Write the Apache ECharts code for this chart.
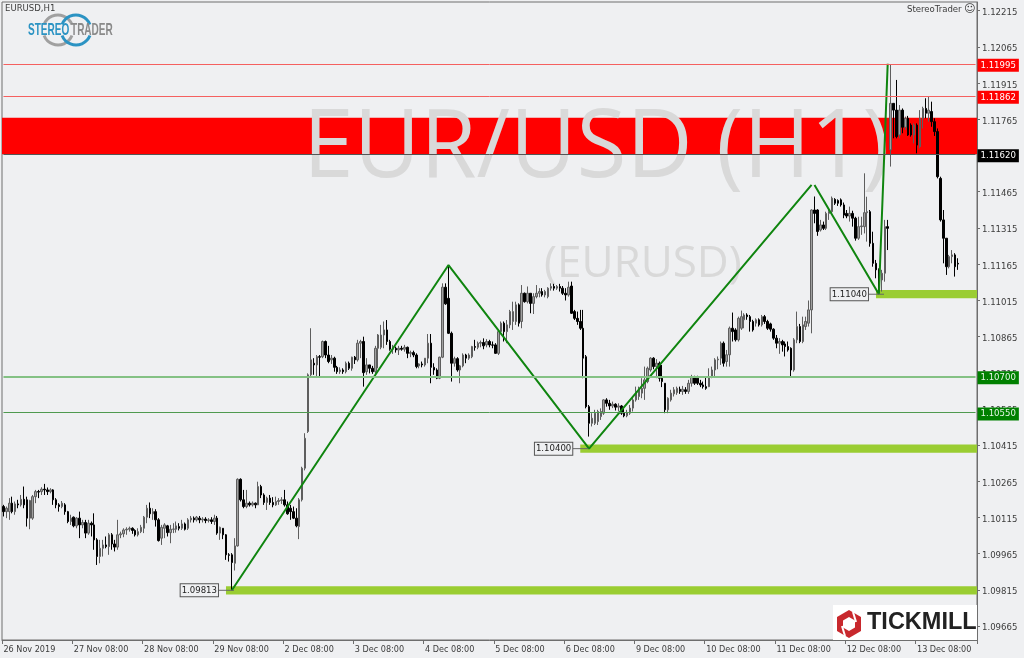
<!DOCTYPE html>
<html><head><meta charset="utf-8">
<style>html,body{margin:0;padding:0;background:#eff0f2}#c{width:1024px;height:658px}</style>
<script src="https://cdn.jsdelivr.net/npm/echarts@6/dist/echarts.min.js"></script>
</head><body><div id="c"></div>
<script>
// each row: [open, close, low, high]
const nov26 = [[1.10160,1.10139,1.10119,1.10167],[1.10139,1.10153,1.10112,1.10160],[1.10139,1.10174,1.10105,1.10195],[1.10174,1.10139,1.10132,1.10201],[1.10139,1.10171,1.10126,1.10181],[1.10171,1.10167,1.10153,1.10188],[1.10167,1.10190,1.10160,1.10208],[1.10190,1.10167,1.10153,1.10243],[1.10188,1.10112,1.10077,1.10201],[1.10112,1.10185,1.10066,1.10188],[1.10112,1.10201,1.10105,1.10208],[1.10201,1.10222,1.10174,1.10229],[1.10222,1.10220,1.10195,1.10229],[1.10222,1.10232,1.10208,1.10240],[1.10232,1.10229,1.10208,1.10254],[1.10229,1.10222,1.10208,1.10239],[1.10222,1.10229,1.10215,1.10236],[1.10229,1.10188,1.10167,1.10232],[1.10188,1.10167,1.10153,1.10195],[1.10167,1.10160,1.10139,1.10174],[1.10160,1.10174,1.10153,1.10183],[1.10167,1.10139,1.10126,1.10174],[1.10139,1.10098,1.10091,1.10142],[1.10098,1.10112,1.10084,1.10126]];
const nov27 = [[1.10116,1.10080,1.10074,1.10119],[1.10080,1.10112,1.10070,1.10116],[1.10112,1.10084,1.10029,1.10139],[1.10084,1.10094,1.10070,1.10105],[1.10094,1.10050,1.10029,1.10105],[1.10050,1.10091,1.10043,1.10105],[1.10091,1.10084,1.10036,1.10098],[1.10084,1.10022,1.09981,1.10132],[1.10022,1.09953,1.09918,1.10029],[1.09953,1.09987,1.09925,1.10022],[1.09987,1.10001,1.09953,1.10022],[1.10001,1.09994,1.09987,1.10036],[1.09994,1.10043,1.09960,1.10050],[1.10043,1.10005,1.09981,1.10050],[1.10005,1.09992,1.09974,1.10022],[1.09992,1.10043,1.09981,1.10105],[1.10043,1.10047,1.10029,1.10056],[1.10047,1.10063,1.10033,1.10070],[1.10063,1.10066,1.10043,1.10074],[1.10066,1.10070,1.10056,1.10077],[1.10070,1.10061,1.10047,1.10074],[1.10061,1.10043,1.10036,1.10066],[1.10043,1.10056,1.10036,1.10070],[1.10056,1.10074,1.10050,1.10084]];
const nov28 = [[1.10070,1.10116,1.10050,1.10121],[1.10116,1.10153,1.10091,1.10167],[1.10153,1.10130,1.10112,1.10177],[1.10130,1.10139,1.10105,1.10153],[1.10139,1.10105,1.10077,1.10149],[1.10105,1.10019,1.10015,1.10112],[1.10029,1.10074,1.10001,1.10084],[1.10070,1.10084,1.10029,1.10091],[1.10080,1.10052,1.10036,1.10084],[1.10052,1.10066,1.10008,1.10084],[1.10066,1.10067,1.10050,1.10091],[1.10066,1.10080,1.10052,1.10098],[1.10077,1.10070,1.10061,1.10091],[1.10070,1.10088,1.10063,1.10105],[1.10088,1.10066,1.10061,1.10094],[1.10070,1.10105,1.10063,1.10112],[1.10105,1.10112,1.10094,1.10121],[1.10112,1.10105,1.10094,1.10119],[1.10105,1.10116,1.10098,1.10121],[1.10112,1.10105,1.10091,1.10121],[1.10105,1.10108,1.10094,1.10116],[1.10108,1.10102,1.10091,1.10116],[1.10102,1.10105,1.10094,1.10112],[1.10105,1.10098,1.10088,1.10116]];
const nov29 = [[1.10098,1.10112,1.10084,1.10126],[1.10112,1.10050,1.10043,1.10121],[1.10050,1.10074,1.10022,1.10077],[1.10070,1.10043,1.10025,1.10070],[1.10043,1.09960,1.09939,1.10046],[1.09960,1.09958,1.09932,1.09967],[1.09960,1.09928,1.09813,1.09967],[1.09925,1.09997,1.09895,1.10029],[1.09997,1.10273,1.09994,1.10277],[1.10273,1.10188,1.10181,1.10277],[1.10188,1.10160,1.10153,1.10229],[1.10160,1.10174,1.10153,1.10229],[1.10174,1.10167,1.10160,1.10181],[1.10167,1.10174,1.10160,1.10181],[1.10174,1.10167,1.10153,1.10177],[1.10167,1.10243,1.10167,1.10263],[1.10243,1.10208,1.10195,1.10250],[1.10208,1.10177,1.10167,1.10215],[1.10177,1.10195,1.10146,1.10201],[1.10195,1.10177,1.10167,1.10208],[1.10177,1.10167,1.10157,1.10199],[1.10167,1.10181,1.10163,1.10201],[1.10181,1.10185,1.10167,1.10195],[1.10185,1.10188,1.10171,1.10199]];
const dec02 = [[1.10188,1.10167,1.10160,1.10229],[1.10167,1.10130,1.10126,1.10181],[1.10153,1.10139,1.10105,1.10167],[1.10139,1.10112,1.10108,1.10160],[1.10112,1.10080,1.10074,1.10153],[1.10077,1.10188,1.10025,1.10195],[1.10188,1.10319,1.10181,1.10325],[1.10319,1.10443,1.10310,1.10464],[1.10471,1.10706,1.10465,1.10712],[1.10706,1.10768,1.10699,1.10899],[1.10754,1.10747,1.10706,1.10775],[1.10747,1.10781,1.10699,1.10788],[1.10781,1.10779,1.10701,1.10788],[1.10781,1.10844,1.10775,1.10848],[1.10844,1.10788,1.10775,1.10848],[1.10788,1.10761,1.10754,1.10826],[1.10768,1.10775,1.10751,1.10788],[1.10775,1.10737,1.10719,1.10781],[1.10737,1.10719,1.10710,1.10743],[1.10719,1.10726,1.10710,1.10737],[1.10726,1.10719,1.10710,1.10733],[1.10719,1.10754,1.10712,1.10761],[1.10754,1.10733,1.10726,1.10761],[1.10733,1.10779,1.10723,1.10781]];
const dec03 = [[1.10779,1.10768,1.10751,1.10784],[1.10768,1.10837,1.10761,1.10851],[1.10837,1.10844,1.10775,1.10851],[1.10844,1.10715,1.10657,1.10864],[1.10719,1.10747,1.10706,1.10775],[1.10747,1.10733,1.10712,1.10747],[1.10733,1.10719,1.10710,1.10743],[1.10719,1.10816,1.10699,1.10826],[1.10816,1.10871,1.10733,1.10875],[1.10820,1.10871,1.10812,1.10913],[1.10871,1.10892,1.10816,1.10927],[1.10892,1.10844,1.10830,1.10933],[1.10844,1.10812,1.10806,1.10851],[1.10812,1.10816,1.10793,1.10830],[1.10816,1.10809,1.10798,1.10823],[1.10809,1.10816,1.10788,1.10826],[1.10816,1.10812,1.10806,1.10826],[1.10812,1.10820,1.10802,1.10830],[1.10820,1.10795,1.10775,1.10823],[1.10795,1.10798,1.10779,1.10806],[1.10798,1.10788,1.10779,1.10806],[1.10788,1.10740,1.10733,1.10795],[1.10743,1.10751,1.10733,1.10754],[1.10751,1.10747,1.10737,1.10761]];
const dec04 = [[1.10747,1.10775,1.10740,1.10775],[1.10775,1.10837,1.10754,1.10875],[1.10837,1.10737,1.10671,1.10875],[1.10737,1.10726,1.10706,1.10754],[1.10726,1.10692,1.10688,1.10733],[1.10692,1.10779,1.10688,1.10781],[1.10779,1.11069,1.10775,1.11085],[1.11069,1.11000,1.10996,1.11085],[1.11023,1.10878,1.10875,1.11161],[1.10878,1.10754,1.10678,1.10885],[1.10754,1.10773,1.10740,1.10781],[1.10773,1.10726,1.10719,1.10779],[1.10726,1.10743,1.10671,1.10747],[1.10743,1.10788,1.10737,1.10795],[1.10788,1.10775,1.10754,1.10793],[1.10775,1.10788,1.10768,1.10795],[1.10781,1.10823,1.10775,1.10826],[1.10823,1.10820,1.10806,1.10851],[1.10820,1.10837,1.10812,1.10844],[1.10837,1.10840,1.10820,1.10848],[1.10840,1.10826,1.10812,1.10857],[1.10830,1.10844,1.10820,1.10854],[1.10844,1.10830,1.10820,1.10851],[1.10830,1.10829,1.10816,1.10844]];
const dec05 = [[1.10830,1.10795,1.10793,1.10837],[1.10795,1.10885,1.10788,1.10889],[1.10885,1.10920,1.10878,1.10927],[1.10920,1.10885,1.10844,1.10927],[1.10885,1.10913,1.10837,1.10933],[1.10913,1.10968,1.10899,1.10975],[1.10927,1.10968,1.10892,1.11009],[1.10927,1.10996,1.10913,1.11009],[1.10996,1.10920,1.10906,1.11002],[1.10927,1.11044,1.10899,1.11078],[1.11044,1.11009,1.11005,1.11047],[1.11009,1.11044,1.11002,1.11072],[1.11044,1.11002,1.10961,1.11044],[1.11002,1.11030,1.10958,1.11044],[1.11030,1.11044,1.11023,1.11078],[1.11044,1.11051,1.11027,1.11065],[1.11051,1.11037,1.11030,1.11065],[1.11037,1.11051,1.11027,1.11058],[1.11030,1.11065,1.11023,1.11069],[1.11065,1.11072,1.11055,1.11085],[1.11072,1.11065,1.11055,1.11083],[1.11065,1.11072,1.11058,1.11078],[1.11072,1.11065,1.11051,1.11083],[1.11065,1.11044,1.11037,1.11074]];
const dec06 = [[1.11044,1.11037,1.11014,1.11065],[1.11037,1.11069,1.11030,1.11092],[1.11074,1.10961,1.10958,1.11092],[1.10968,1.10940,1.10933,1.10975],[1.10940,1.10927,1.10913,1.10968],[1.10927,1.10899,1.10892,1.10975],[1.10899,1.10775,1.10692,1.10975],[1.10781,1.10574,1.10567,1.10788],[1.10574,1.10505,1.10450,1.10581],[1.10505,1.10526,1.10492,1.10547],[1.10505,1.10547,1.10498,1.10561],[1.10512,1.10554,1.10498,1.10561],[1.10533,1.10554,1.10519,1.10567],[1.10547,1.10602,1.10540,1.10605],[1.10602,1.10588,1.10574,1.10609],[1.10588,1.10577,1.10561,1.10602],[1.10577,1.10584,1.10568,1.10595],[1.10584,1.10572,1.10558,1.10588],[1.10572,1.10577,1.10554,1.10588],[1.10577,1.10547,1.10540,1.10581],[1.10547,1.10536,1.10530,1.10568],[1.10536,1.10550,1.10530,1.10561],[1.10547,1.10568,1.10540,1.10581],[1.10568,1.10602,1.10554,1.10613]];
const dec09 = [[1.10602,1.10637,1.10595,1.10657],[1.10616,1.10650,1.10602,1.10657],[1.10630,1.10650,1.10609,1.10692],[1.10650,1.10685,1.10602,1.10740],[1.10678,1.10733,1.10671,1.10740],[1.10726,1.10775,1.10719,1.10779],[1.10775,1.10740,1.10729,1.10779],[1.10740,1.10754,1.10692,1.10771],[1.10754,1.10692,1.10678,1.10761],[1.10692,1.10678,1.10655,1.10747],[1.10671,1.10561,1.10547,1.10671],[1.10561,1.10609,1.10547,1.10613],[1.10602,1.10630,1.10595,1.10644],[1.10627,1.10644,1.10616,1.10655],[1.10632,1.10650,1.10623,1.10657],[1.10646,1.10637,1.10627,1.10657],[1.10637,1.10646,1.10623,1.10660],[1.10644,1.10637,1.10627,1.10655],[1.10637,1.10671,1.10627,1.10685],[1.10671,1.10699,1.10657,1.10706],[1.10699,1.10671,1.10664,1.10702],[1.10692,1.10671,1.10664,1.10702],[1.10671,1.10664,1.10655,1.10685],[1.10664,1.10657,1.10649,1.10678]];
const dec10 = [[1.10657,1.10650,1.10644,1.10699],[1.10657,1.10699,1.10655,1.10733],[1.10699,1.10726,1.10692,1.10740],[1.10726,1.10768,1.10696,1.10775],[1.10768,1.10771,1.10729,1.10782],[1.10775,1.10837,1.10747,1.10844],[1.10837,1.10754,1.10740,1.10844],[1.10761,1.10789,1.10740,1.10809],[1.10789,1.10899,1.10740,1.10906],[1.10899,1.10885,1.10844,1.10964],[1.10892,1.10851,1.10844,1.10899],[1.10851,1.10940,1.10844,1.10947],[1.10899,1.10947,1.10892,1.10972],[1.10934,1.10954,1.10899,1.10961],[1.10954,1.10947,1.10934,1.10961],[1.10947,1.10927,1.10885,1.10954],[1.10927,1.10892,1.10885,1.10934],[1.10920,1.10934,1.10906,1.10940],[1.10934,1.10913,1.10906,1.10940],[1.10913,1.10947,1.10906,1.10954],[1.10947,1.10927,1.10917,1.10954],[1.10927,1.10899,1.10892,1.10934],[1.10917,1.10895,1.10885,1.10922],[1.10895,1.10858,1.10851,1.10899]];
const dec11 = [[1.10858,1.10837,1.10816,1.10871],[1.10837,1.10844,1.10793,1.10858],[1.10844,1.10830,1.10802,1.10851],[1.10834,1.10823,1.10782,1.10844],[1.10823,1.10809,1.10802,1.10844],[1.10816,1.10726,1.10699,1.10820],[1.10726,1.10851,1.10719,1.10858],[1.10851,1.10906,1.10837,1.10968],[1.10906,1.10844,1.10837,1.10917],[1.10844,1.10913,1.10837,1.10947],[1.10906,1.10927,1.10892,1.10947],[1.10920,1.10975,1.10906,1.11014],[1.10975,1.11389,1.10878,1.11392],[1.11389,1.11375,1.11334,1.11445],[1.11389,1.11300,1.11282,1.11392],[1.11306,1.11327,1.11300,1.11348],[1.11327,1.11313,1.11306,1.11341],[1.11313,1.11375,1.11306,1.11382],[1.11375,1.11382,1.11348,1.11396],[1.11382,1.11438,1.11375,1.11445],[1.11433,1.11417,1.11410,1.11438],[1.11428,1.11417,1.11406,1.11433],[1.11431,1.11410,1.11403,1.11437],[1.11410,1.11368,1.11355,1.11420]];
const dec12 = [[1.11375,1.11364,1.11355,1.11389],[1.11364,1.11375,1.11341,1.11403],[1.11375,1.11355,1.11320,1.11386],[1.11355,1.11272,1.11262,1.11361],[1.11272,1.11320,1.11265,1.11361],[1.11320,1.11323,1.11286,1.11361],[1.11320,1.11378,1.11292,1.11541],[1.11378,1.11382,1.11258,1.11444],[1.11382,1.11251,1.11237,1.11389],[1.11251,1.11168,1.11154,1.11299],[1.11168,1.11141,1.11106,1.11182],[1.11141,1.11099,1.11044,1.11147],[1.11099,1.11127,1.11051,1.11141],[1.11127,1.11320,1.11092,1.11348],[1.11320,1.11313,1.11223,1.11348],[1.11638,1.11831,1.11569,1.11990],[1.11831,1.11803,1.11686,1.11831],[1.11803,1.11693,1.11686,1.11928],[1.11700,1.11803,1.11686,1.11824],[1.11803,1.11732,1.11707,1.11810],[1.11732,1.11769,1.11721,1.11776],[1.11769,1.11700,1.11696,1.11779],[1.11741,1.11700,1.11693,1.11748],[1.11700,1.11741,1.11665,1.11748]];
const dec13 = [[1.11741,1.11658,1.11624,1.11748],[1.11652,1.11769,1.11645,1.11803],[1.11769,1.11810,1.11727,1.11817],[1.11810,1.11790,1.11769,1.11852],[1.11790,1.11803,1.11755,1.11859],[1.11797,1.11755,1.11734,1.11838],[1.11755,1.11714,1.11696,1.11769],[1.11714,1.11527,1.11520,1.11727],[1.11520,1.11348,1.11341,1.11527],[1.11348,1.11272,1.11168,1.11389],[1.11272,1.11154,1.11120,1.11272],[1.11154,1.11196,1.11147,1.11203],[1.11196,1.11203,1.11168,1.11223],[1.11203,1.11154,1.11113,1.11210],[1.11168,1.11165,1.11141,1.11189]];

const xTickLabels = ['26 Nov 2019','27 Nov 08:00','28 Nov 08:00','29 Nov 08:00','2 Dec 08:00','3 Dec 08:00','4 Dec 08:00','5 Dec 08:00','6 Dec 08:00','9 Dec 08:00','10 Dec 08:00','11 Dec 08:00','12 Dec 08:00','13 Dec 08:00'];
const yTicks = [1.09665,1.09815,1.09965,1.10115,1.10265,1.10415,1.10565,1.10715,1.10865,1.11015,1.11165,1.11315,1.11465,1.11615,1.11765,1.11915,1.12065,1.12215];

const redLevels = [1.11995,1.11862];
const pivotLevel = 1.11620;
const greenLevels = [1.10700,1.10550];
const redZone = [1.11620,1.11771];
const supportValues = [1.09813,1.10400,1.11040];
const supportStart = [76,197,298];
const zigzagUpIdx = [78,152,200,276];
const zigzagUpVal = [1.09813,1.11161,1.10400,1.11493];
const zigzagDownIdx = [277,299,302];
const zigzagDownVal = [1.11493,1.11040,1.11995];

const bars = [].concat(nov26,nov27,nov28,nov29,dec02,dec03,dec04,dec05,dec06,dec09,dec10,dec11,dec12,dec13);
const slotCount = 333;
const categories = Array.from({length:slotCount},(_,i)=>String(i));
const FONT = '"DejaVu Sans Condensed","Liberation Sans"';
const TXT = '#3c3c3c';
const ZONE_H = 0.00017;
const GREEN = '#0f850f';

function levelLine(v,color,width,bg,fg){
  return [{xAxis:0,yAxis:v,lineStyle:{color:color,width:width,type:'solid',opacity:1},
    label:{show:true,position:'end',distance:2,offset:[0,1.5],formatter:()=>v.toFixed(5),color:fg,backgroundColor:bg,
      fontFamily:FONT,fontSize:9.5,padding:[1,3,1,3],lineHeight:11}},{xAxis:slotCount-1,yAxis:v}];
}
const option = {
  animation:false,
  backgroundColor:'#eff0f2',
  textStyle:{fontFamily:FONT},
  grid:{show:true,left:2,right:47,top:2,bottom:18,backgroundColor:'#eff0f2',borderColor:'#6e6e6e',borderWidth:1,containLabel:false},
  xAxis:{type:'category',data:categories,boundaryGap:true,
    axisLine:{show:true,lineStyle:{color:'#6e6e6e',width:1}},
    axisTick:{show:true,length:4,interval:(i)=>i%24===0,lineStyle:{color:'#6e6e6e'}},
    axisLabel:{show:true,interval:(i)=>i%24===0,formatter:(v,i)=>xTickLabels[i/24],align:'left',margin:5,color:TXT,fontSize:9,fontFamily:FONT,hideOverlap:false},
    splitLine:{show:false}},
  yAxis:{type:'value',position:'right',min:1.09607,max:1.12251,scale:true,
    axisLine:{show:true,onZero:false,lineStyle:{color:'#6e6e6e',width:1}},
    axisTick:{show:true,length:3,customValues:yTicks,lineStyle:{color:'#6e6e6e'}},
    axisLabel:{show:true,customValues:yTicks,formatter:(v)=>'{t|'+v.toFixed(5)+'}',margin:5,color:TXT,fontSize:9.5,fontFamily:FONT,
      rich:{t:{color:TXT,fontSize:9.5,fontFamily:FONT,padding:[4,0,0,0]}},showMinLabel:true,showMaxLabel:true},
    splitLine:{show:false}},
  series:[
    {type:'candlestick',name:'EURUSD',data:bars,barWidth:2,z:2,
      itemStyle:{color:'#a0a0a0',color0:'#000000',borderColor:'#5e5e5e',borderColor0:'#000000',borderWidth:1},
      markArea:{silent:true,z:1,data:[
        [{yAxis:redZone[1],itemStyle:{color:'#ff0000',opacity:1}},{yAxis:redZone[0]}]
      ].concat(supportValues.map((v,k)=>[
        {xAxis:supportStart[k],yAxis:v+ZONE_H,itemStyle:{color:'#9acd32',opacity:1}},
        {yAxis:v-ZONE_H}
      ]))}},
    {type:'line',name:'zigzag up',data:zigzagUpIdx.map((x,i)=>[x,zigzagUpVal[i]]),showSymbol:false,z:3,lineStyle:{color:GREEN,width:2},itemStyle:{color:GREEN},
      markLine:{silent:true,symbol:'none',z:5,animation:false,data:[]
        .concat(redLevels.map(v=>levelLine(v,'#f5605f',1,'#ff0000','#ffffff')))
        .concat([levelLine(pivotLevel,'#555555',1,'#000000','#ffffff')])
        .concat([levelLine(greenLevels[0],'#84c184',2,'#008000','#e6f5e6'),levelLine(greenLevels[1],'#4f9a4f',1,'#008000','#e6f5e6')])
      }},
    {type:'line',name:'zigzag down',data:zigzagDownIdx.map((x,i)=>[x,zigzagDownVal[i]]),showSymbol:false,z:3,lineStyle:{color:GREEN,width:2},itemStyle:{color:GREEN}},
    {type:'scatter',name:'support tags',data:supportStart.map((x,i)=>[x,supportValues[i]]),symbol:'rect',symbolSize:[16,1],z:4,itemStyle:{color:'#666666',opacity:1},
      label:{show:true,position:'left',distance:0,formatter:(p)=>p.value[1].toFixed(5),color:'#222222',backgroundColor:'#eff0f2',borderColor:'#555555',borderWidth:1,padding:[1,1,1,1],fontSize:9.5,fontFamily:FONT,lineHeight:10}}
  ],
  graphic:[
    {type:'text',z:1.5,silent:true,x:303,y:102,scaleX:0.96,style:{text:'EUR/USD (H1)',font:'95px "Open Sans"',fill:'#d9d9d9'}},
    {type:'text',z:1.5,silent:true,left:544,top:242,style:{text:'(EURUSD)',font:'44px "Open Sans"',fill:'#d9d9d9'}},
    {type:'text',z:10,silent:true,left:5,top:4,style:{text:'EURUSD,H1',font:'9.5px "DejaVu Sans Condensed","Liberation Sans"',fill:TXT}},
    {type:'text',z:10,silent:true,left:907,top:5,style:{text:'StereoTrader',font:'9.5px "DejaVu Sans Condensed","Liberation Sans"',fill:TXT}},
    {type:'text',z:10,silent:true,left:964,top:4,style:{text:'\u263A',font:'11px "DejaVu Sans"',fill:TXT}},
    // logo: StereoTrader
    {type:'arc',z:10,silent:true,shape:{cx:58,cy:30,r:15,startAngle:Math.PI*1.12,endAngle:Math.PI*1.88},style:{stroke:'#a0a0a0',lineWidth:3,fill:null}},
    {type:'arc',z:10,silent:true,shape:{cx:58,cy:30,r:15,startAngle:Math.PI*0.12,endAngle:Math.PI*0.88},style:{stroke:'#a0a0a0',lineWidth:3,fill:null}},
    {type:'arc',z:10,silent:true,shape:{cx:76,cy:30,r:15,startAngle:Math.PI*1.12,endAngle:Math.PI*1.88},style:{stroke:'#2b93c3',lineWidth:3,fill:null}},
    {type:'arc',z:10,silent:true,shape:{cx:76,cy:30,r:15,startAngle:Math.PI*0.12,endAngle:Math.PI*0.88},style:{stroke:'#2b93c3',lineWidth:3,fill:null}},
    {type:'text',z:11,silent:true,x:28,y:22,scaleX:0.59,style:{text:'STEREO',font:'bold 17px "Liberation Sans"',fill:'#2b93c3'}},
    {type:'text',z:11,silent:true,x:71,y:22,scaleX:0.59,style:{text:'TRADER',font:'bold 17px "Liberation Sans"',fill:'#8a8a8a'}},
    // logo: Tickmill
    {type:'rect',z:10,silent:true,shape:{x:833,y:605,width:144,height:35},style:{fill:'#ffffff'}},
    {type:'polygon',z:11,silent:true,shape:{points:[[849,610],[861,617],[861,631],[849,638],[837,631],[837,617]]},style:{fill:'#c8282d'}},
    {type:'polygon',z:12,silent:true,shape:{points:[[849,617],[855,620.5],[855,627.5],[849,631],[843,627.5],[843,620.5]]},style:{fill:'#ffffff'}},
    {type:'line',z:12,silent:true,shape:{x1:853,y1:612,x2:856,y2:622},style:{stroke:'#ffffff',lineWidth:2}},
    {type:'line',z:12,silent:true,shape:{x1:845,y1:636,x2:842,y2:626},style:{stroke:'#ffffff',lineWidth:2}},
    {type:'text',z:11,silent:true,left:867,top:611,style:{text:'TICKMILL',font:'bold 23.5px "Liberation Sans"',fill:'#222222'}}
  ]
};
const chart = echarts.init(document.getElementById('c'),null,{renderer:'canvas'});
chart.setOption(option);
</script></body></html>
